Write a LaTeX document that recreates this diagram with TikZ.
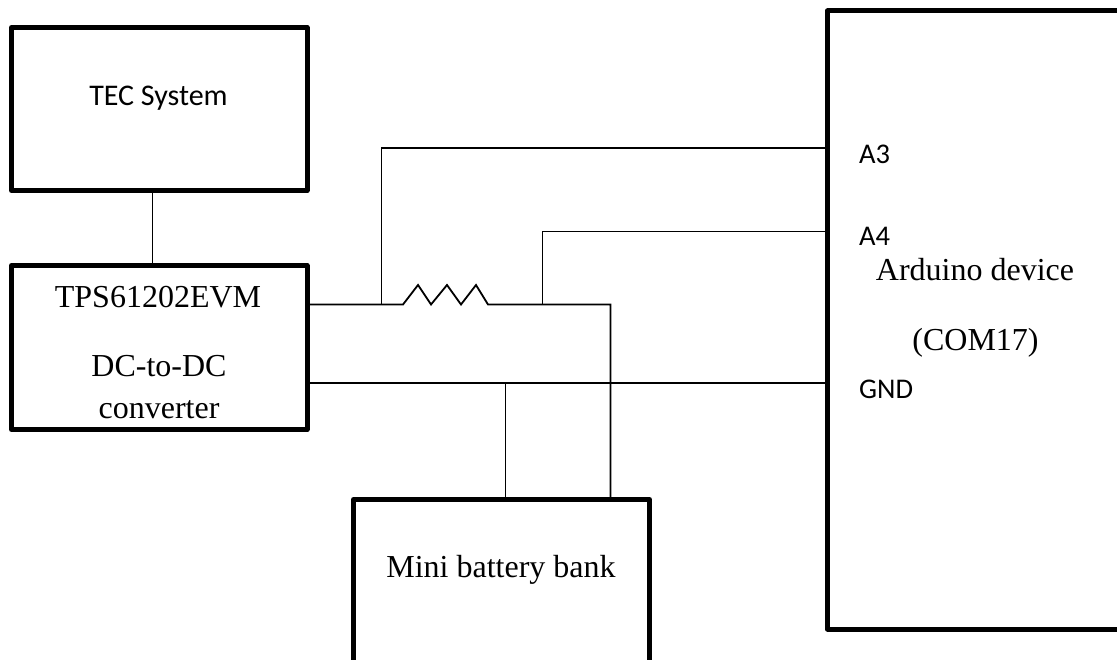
\documentclass[tikz,border=0pt]{standalone}
\usepackage{fontspec}
\setmainfont{Liberation Serif}
\newfontfamily\carlitofont{Carlito}
\tikzset{
  px/.style={x=1pt,y=-1pt},
  blockbox/.style={draw=black,line width=5pt,line join=round,fill=white,inner sep=0pt},
  wire/.style={draw=black,line width=1.8pt},
  serif/.style={font=\fontsize{32}{38}\selectfont,inner sep=0pt,anchor=base},
  sans/.style={font=\carlitofont\fontsize{30}{36}\selectfont,inner sep=0pt,anchor=base},
  pin/.style={font=\carlitofont\fontsize{28.5}{34}\selectfont,inner sep=0pt,anchor=base west}
}
\begin{document}
\begin{tikzpicture}[px]
\useasboundingbox (0,0) rectangle (1117,660);
\begin{scope}
\clip (0,0) rectangle (1117,660);
\coordinate (conv1) at (308,304.5);
\coordinate (j1) at (381.5,304.5);
\coordinate (r0) at (403,304.5);
\coordinate (r1) at (488,304.5);
\coordinate (j2) at (542.5,304.5);
\coordinate (j3) at (610.5,304.5);
\coordinate (j4) at (381.5,148);
\coordinate (a3) at (826,148);
\coordinate (j5) at (542.5,231.5);
\coordinate (a4) at (826,231.5);
\coordinate (conv2) at (308,383);
\coordinate (gnd) at (826,383);
\coordinate (j6) at (505.5,383);
\coordinate (b1) at (505.5,499);
\coordinate (b2) at (610.5,499);
\coordinate (t0) at (152.5,190);
\coordinate (t1) at (152.5,266);
\draw[wire] (t0) -- (t1);
\draw[wire] (conv1) -- (r0) -- (418,285) -- (431,304.5) -- (447,285) -- (461,304.5) -- (476,285) -- (r1) -- (j3) -- (b2);
\draw[wire] (j1) -- (j4) -- (a3);
\draw[wire] (j2) -- (j5) -- (a4);
\draw[wire] (conv2) -- (gnd);
\draw[wire] (j6) -- (b1);
\node[blockbox,minimum width=295.5pt,minimum height=163pt] (tec) at (159.25,109) {};
\node[blockbox,minimum width=295.5pt,minimum height=164pt] (conv) at (159.25,347.5) {};
\node[blockbox,minimum width=296pt,minimum height=200pt] (bat) at (501.5,599.5) {};
\node[blockbox,minimum width=299pt,minimum height=618pt] (ard) at (977,320) {};
\end{scope}
\node[sans] (t1a) at (158.5,105.5) {TEC System};
\node[serif] (t2) at (158,308) {TPS61202EVM};
\node[serif] (t3) at (159,377) {DC-to-DC};
\node[serif] (t4) at (159,418) {converter};
\node[serif] (t5) at (501,577) {Mini battery bank};
\node[serif] (t6) at (975,281) {Arduino device};
\node[serif] (t7) at (975.5,350.5) {(COM17)};
\node[pin] (p1) at (859,163.5) {A3};
\node[pin] (p2) at (859,245.5) {A4};
\node[pin] (p3) at (859,399) {GND};
\end{tikzpicture}
\end{document}
